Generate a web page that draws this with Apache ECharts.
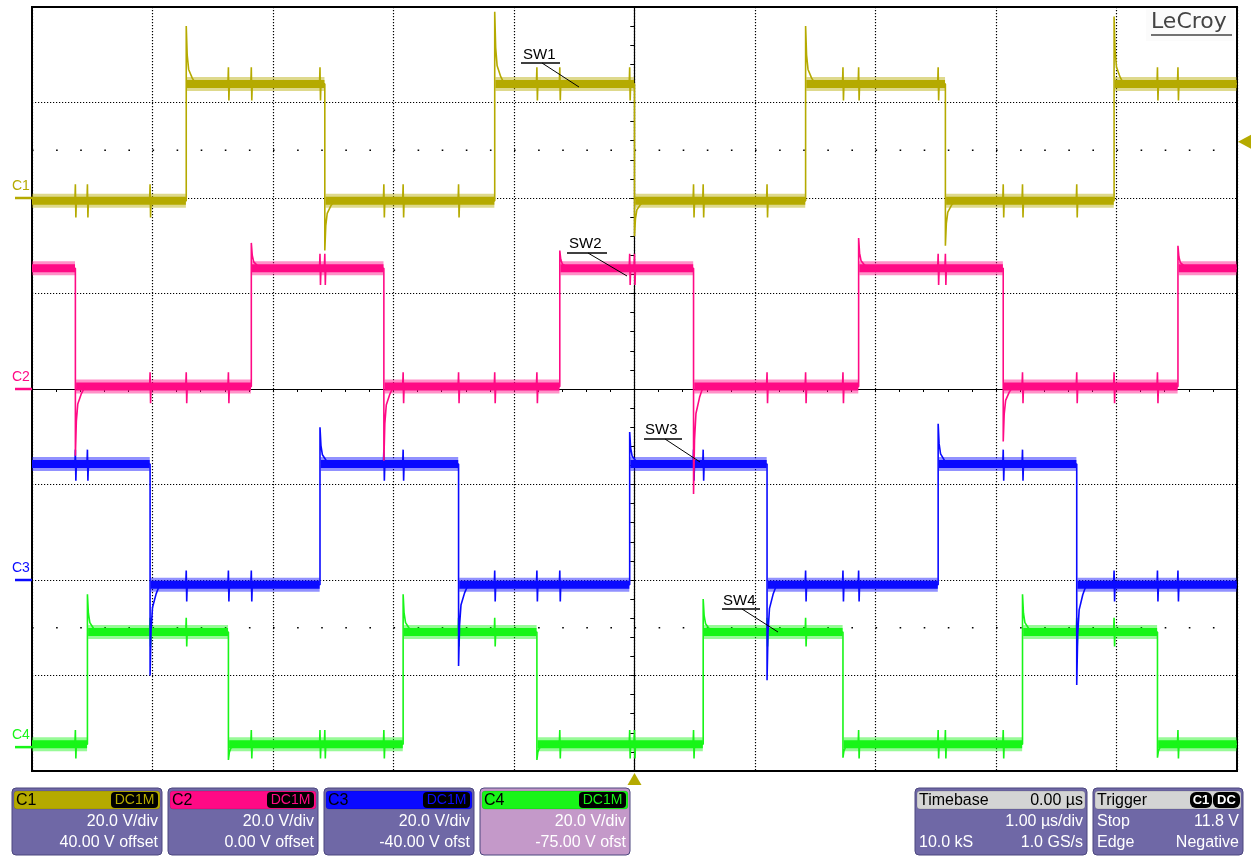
<!DOCTYPE html>
<html><head><meta charset="utf-8">
<script src="https://cdn.jsdelivr.net/npm/echarts@6/dist/echarts.min.js"></script>
<style>html,body{margin:0;padding:0;background:#fff}#c{width:1254px;height:859px}</style>
</head><body><div id="c"></div>
<script>
// ---- data (time in µs, 1.00 µs/div, trigger at 0) ----
const TIME_RANGE = [-5, 5];
const DIV_RANGE = [-4, 4];
const CH_NAMES = ['C1', 'C2', 'C3', 'C4'];
const CH_COLORS = ['#b5aa00', '#ff0a85', '#0a0aff', '#18f518'];
const CH_VDIV = [20, 20, 20, 20];
const CH_OFFSET = [40, 0, -40, -75];
const CH_OFFSET_TXT = ['40.00 V offset', '0.00 V offset', '-40.00 V ofst', '-75.00 V ofst'];
const CH_LABELS = ['SW1', 'SW2', 'SW3', 'SW4'];

// switching edge times (µs)
const C1_EDGES = [-3.72, -2.57, -1.16, 0.00, 1.42, 2.58, 3.98];
const C2_EDGES = [-4.64, -3.18, -2.08, -0.62, 0.49, 1.86, 3.06, 4.51];
const C3_EDGES = [-4.02, -2.61, -1.46, -0.04, 1.10, 2.52, 3.67];
const C4_EDGES = [-4.54, -3.37, -1.92, -0.81, 0.57, 1.73, 3.22, 4.34];
// overshoot / undershoot value (V) reached at each edge
const C1_PEAKS = [36, -11, 39, -8, 36, -10, 38];
const C2_PEAKS = [-14, 30.6, -15, 29, -22, 31.6, -11, 30];
const C3_PEAKS = [-20, 32, -18, 31, -21, 32.7, -22];
const C4_PEAKS = [32, -2.7, 32, -2.7, 31, -2.2, 32, -2.2];
// [low, high] levels (V)
const C1_LEVELS = [-0.6, 23.9];
const C2_LEVELS = [0.5, 25.3];
const C3_LEVELS = [-1.0, 24.3];
const C4_LEVELS = [0.6, 24.1];
const START_HIGH = [false, true, true, false];
// crosstalk spike size (V) seen on each trace at the other phases' edges: [up, down]
const GLITCH = [[3.5, -3.5], [3, -3.5], [3, -3.5], [3, -3]];
// ringing after an edge: [dt µs, fraction of overshoot left]
const RING = [[0.008, 0.5], [0.02, 0.25], [0.05, 0.1], [0.08, 0]];

const EDGES = [C1_EDGES, C2_EDGES, C3_EDGES, C4_EDGES];
const PEAKS = [C1_PEAKS, C2_PEAKS, C3_PEAKS, C4_PEAKS];
const LEVELS = [C1_LEVELS, C2_LEVELS, C3_LEVELS, C4_LEVELS];

function build(ch) {
  const edges = EDGES[ch], peaks = PEAKS[ch], levels = LEVELS[ch];
  const others = [];
  EDGES.forEach((e, k) => { if (k !== ch) others.push(...e); });
  others.sort((a, b) => a - b);
  const trace = [], band = [];
  let hi = START_HIGH[ch];
  let t0 = TIME_RANGE[0], bandStart = TIME_RANGE[0];
  const bounds = edges.concat([TIME_RANGE[1]]);
  for (let i = 0; i < bounds.length; i++) {
    const lvl = levels[hi ? 1 : 0];
    const tEnd = bounds[i];
    trace.push([t0, lvl]);
    others.filter(g => g > t0 + 0.02 && g < tEnd - 0.02).forEach(g => {
      trace.push([g - 0.004, lvl], [g, lvl + GLITCH[ch][0]], [g + 0.004, lvl + GLITCH[ch][1]], [g + 0.008, lvl]);
    });
    trace.push([tEnd, lvl]);
    band.push([bandStart, lvl], [tEnd - 0.003, lvl], [tEnd, '-']);
    if (i < edges.length) {
      hi = !hi;
      const nl = levels[hi ? 1 : 0], pk = peaks[i];
      trace.push([tEnd, pk]);
      RING.forEach(([dt, r]) => trace.push([tEnd + dt, nl + (pk - nl) * r]));
      t0 = tEnd + RING[RING.length - 1][0];
      bandStart = tEnd + 0.006;
    }
  }
  return { trace, band };
}

const chart = echarts.init(document.getElementById('c'), null, { renderer: 'canvas' });
const FONT = '"Liberation Sans", Arial, sans-serif';

const dotted = { show: true, lineStyle: { color: '#000', width: 1.2, type: [1.2, 1.8] } };
const xAxes = [
  { type: 'value', min: TIME_RANGE[0], max: TIME_RANGE[1], interval: 1, gridIndex: 0,
    axisLine: { show: true, onZero: true, onZeroAxisIndex: 0, lineStyle: { color: '#000', width: 1.2 } },
    axisTick: { show: true, length: 3, lineStyle: { color: '#000' } },
    minorTick: { show: true, splitNumber: 5, length: 3, lineStyle: { color: '#000' } },
    axisLabel: { show: false }, splitLine: dotted },
  { type: 'value', min: TIME_RANGE[0], max: TIME_RANGE[1], interval: 1, gridIndex: 0,
    axisLine: { show: false, onZero: true, onZeroAxisIndex: 0 },
    axisTick: { show: true, inside: true, length: 3, lineStyle: { color: '#000' } },
    minorTick: { show: true, splitNumber: 5, length: 3, lineStyle: { color: '#000' } },
    axisLabel: { show: false }, splitLine: { show: false } }
];
const yAxes = [
  { type: 'value', min: DIV_RANGE[0], max: DIV_RANGE[1], interval: 1,
    axisLine: { show: true, onZero: true, onZeroAxisIndex: 0, lineStyle: { color: '#000', width: 1.2 } },
    axisTick: { show: true, length: 4, lineStyle: { color: '#000' } },
    minorTick: { show: true, splitNumber: 5, length: 4, lineStyle: { color: '#000' } },
    axisLabel: { show: false }, splitLine: dotted },
  { type: 'value', min: DIV_RANGE[0], max: DIV_RANGE[1], interval: 1,
    axisLine: { show: false, onZero: true, onZeroAxisIndex: 0 },
    axisTick: { show: true, inside: true, length: 4, lineStyle: { color: '#000' } },
    minorTick: { show: true, splitNumber: 5, length: 4, lineStyle: { color: '#000' } },
    axisLabel: { show: false }, splitLine: { show: false } }
];
CH_NAMES.forEach((n, i) => {
  yAxes.push({ type: 'value', show: false, min: -CH_OFFSET[i] - 4 * CH_VDIV[i], max: -CH_OFFSET[i] + 4 * CH_VDIV[i] });
});

const series = [
  { type: 'line', xAxisIndex: 0, yAxisIndex: 0, symbol: 'none', silent: true, z: 1,
    data: [[TIME_RANGE[0], 2.5], [TIME_RANGE[1], 2.5]],
    lineStyle: { color: '#000', width: 1.5, type: [1.6, 22.5] } },
  { type: 'line', xAxisIndex: 0, yAxisIndex: 0, symbol: 'none', silent: true, z: 1,
    data: [[TIME_RANGE[0], -2.5], [TIME_RANGE[1], -2.5]],
    lineStyle: { color: '#000', width: 1.5, type: [1.6, 22.5] } }
];
for (let ch = 3; ch >= 0; ch--) {
  const { trace, band } = build(ch);
  const z = 5 + (3 - ch) * 2;
  series.push({ type: 'line', name: CH_NAMES[ch] + ' band', xAxisIndex: 0, yAxisIndex: 2 + ch,
    symbol: 'none', connectNulls: false, z: z, data: band,
    lineStyle: { color: CH_COLORS[ch], width: 14, opacity: 0.45, cap: 'butt' } });
  series.push({ type: 'line', name: CH_NAMES[ch] + ' core', xAxisIndex: 0, yAxisIndex: 2 + ch,
    symbol: 'none', connectNulls: false, z: z, data: band,
    lineStyle: { color: CH_COLORS[ch], width: 8, cap: 'butt' } });
  series.push({ type: 'line', name: CH_NAMES[ch], xAxisIndex: 0, yAxisIndex: 2 + ch,
    symbol: 'none', z: z + 1, data: trace,
    lineStyle: { color: CH_COLORS[ch], width: 1.6 } });
}

chart.setOption({
  animation: false,
  backgroundColor: '#fff',
  grid: { left: 32, top: 7, width: 1205, height: 764, show: true, borderColor: '#000', borderWidth: 2, backgroundColor: 'transparent' },
  xAxis: xAxes, yAxis: yAxes, series: series
});

// ---- decorations: markers, annotations, info panels ----
const g = [];
// channel ground markers (0 V on each channel)
CH_NAMES.forEach((n, i) => {
  const y0 = chart.convertToPixel({ yAxisIndex: 2 + i }, 0);
  g.push({ type: 'line', shape: { x1: 15, y1: y0, x2: 32, y2: y0 }, style: { stroke: CH_COLORS[i], lineWidth: 2.5 }, z: 50 });
  g.push({ type: 'text', x: 12, y: y0 - 5, style: { text: n, fill: CH_COLORS[i], font: '14px ' + FONT, textVerticalAlign: 'bottom' }, z: 50 });
});
// trigger level (11.8 V on C1) and trigger time markers
const TRIG_LEVEL = 11.8;
const ty = chart.convertToPixel({ yAxisIndex: 2 }, TRIG_LEVEL);
g.push({ type: 'polygon', shape: { points: [[1238, ty], [1251, ty - 7], [1251, ty + 7]] }, style: { fill: CH_COLORS[0] }, z: 50 });
const tx = chart.convertToPixel({ xAxisIndex: 0 }, 0);
g.push({ type: 'polygon', shape: { points: [[tx, 773], [tx - 7, 785], [tx + 7, 785]] }, style: { fill: CH_COLORS[0] }, z: 50 });

// SW annotations
const ANNOT = [
  { tx: 523, ty: 47, ux1: 521, ux2: 560, uy: 63, lx1: 542, ly1: 63, lx2: 579, ly2: 87 },
  { tx: 569, ty: 236, ux1: 567, ux2: 607, uy: 253, lx1: 588, ly1: 253, lx2: 627, ly2: 276 },
  { tx: 645, ty: 422, ux1: 644, ux2: 682, uy: 439, lx1: 665, ly1: 439, lx2: 700, ly2: 462 },
  { tx: 723, ty: 593, ux1: 722, ux2: 760, uy: 609, lx1: 742, ly1: 609, lx2: 778, ly2: 632 }
];
ANNOT.forEach((a, i) => {
  g.push({ type: 'text', x: a.tx, y: a.ty, style: { text: CH_LABELS[i], fill: '#000', font: '15px ' + FONT }, z: 60 });
  g.push({ type: 'line', shape: { x1: a.ux1, y1: a.uy, x2: a.ux2, y2: a.uy }, style: { stroke: '#000', lineWidth: 1.3 }, z: 60 });
  g.push({ type: 'line', shape: { x1: a.lx1, y1: a.ly1, x2: a.lx2, y2: a.ly2 }, style: { stroke: '#000', lineWidth: 1 }, z: 60 });
});

// LeCroy logo
g.push({ type: 'rect', shape: { x: 1146, y: 9, width: 88, height: 32 }, style: { fill: '#fbfbfb' }, z: 40 });
g.push({ type: 'text', x: 1151, y: 11, style: { text: 'LeCroy', fill: '#444', font: '22px "DejaVu Sans", sans-serif' }, z: 41 });
g.push({ type: 'line', shape: { x1: 1151, y1: 35, x2: 1232, y2: 35 }, style: { stroke: '#444', lineWidth: 1.6 }, z: 41 });

// info panels
const BODY = '#6f68a6', BODY_SEL = '#c499c9', EDGE = '#4c477f', HEAD_GRAY = '#d4d4d4';
function panel(x, w, body, headFill) {
  g.push({ type: 'rect', shape: { x: x, y: 788, width: w, height: 67, r: 4 }, style: { fill: body, stroke: EDGE, lineWidth: 1 }, z: 30 });
  g.push({ type: 'rect', shape: { x: x + 2, y: 791, width: w - 4, height: 18, r: 3 }, style: { fill: headFill, stroke: 'rgba(0,0,0,0.25)', lineWidth: 0.5 }, z: 31 });
}
function txt(x, y, s, color, align, size, weight) {
  g.push({ type: 'text', x: x, y: y, style: { text: s, fill: color, font: (weight || 'normal') + ' ' + (size || 16) + 'px ' + FONT, textAlign: align || 'left', textVerticalAlign: 'middle' }, z: 33 });
}
function badge(x, w, s, color) {
  g.push({ type: 'rect', shape: { x: x, y: 792, width: w, height: 16, r: 4 }, style: { fill: '#000' }, z: 32 });
  txt(x + w / 2, 800.5, s, color, 'center', 14);
}
const PX = [12, 168, 324, 480];
CH_NAMES.forEach((n, i) => {
  const x = PX[i], w = 150;
  panel(x, w, i === 3 ? BODY_SEL : BODY, CH_COLORS[i]);
  txt(x + 4, 800.5, n, '#000', 'left', 16);
  badge(x + w - 51, 47, 'DC1M', CH_COLORS[i]);
  txt(x + w - 4, 822, CH_VDIV[i].toFixed(1) + ' V/div', '#fff', 'right', 16);
  txt(x + w - 4, 843, CH_OFFSET_TXT[i], '#fff', 'right', 16);
});
// timebase
panel(915, 172, BODY, HEAD_GRAY);
txt(919, 800.5, 'Timebase', '#000', 'left', 16);
txt(1083, 800.5, '0.00 µs', '#000', 'right', 16);
txt(1083, 822, '1.00 µs/div', '#fff', 'right', 16);
txt(919, 843, '10.0 kS', '#fff', 'left', 16);
txt(1083, 843, '1.0 GS/s', '#fff', 'right', 16);
// trigger
panel(1093, 150, BODY, HEAD_GRAY);
txt(1097, 800.5, 'Trigger', '#000', 'left', 16);
g.push({ type: 'rect', shape: { x: 1190, y: 792, width: 22, height: 16, r: 6 }, style: { fill: '#000' }, z: 32 });
txt(1201, 800.5, 'C1', '#fff', 'center', 13, 'bold');
g.push({ type: 'rect', shape: { x: 1213, y: 792, width: 27, height: 16, r: 6 }, style: { fill: '#000' }, z: 32 });
txt(1226.5, 800.5, 'DC', '#fff', 'center', 13, 'bold');
txt(1097, 822, 'Stop', '#fff', 'left', 16);
txt(1239, 822, TRIG_LEVEL.toFixed(1) + ' V', '#fff', 'right', 16);
txt(1097, 843, 'Edge', '#fff', 'left', 16);
txt(1239, 843, 'Negative', '#fff', 'right', 16);

chart.setOption({ graphic: g });
</script></body></html>
